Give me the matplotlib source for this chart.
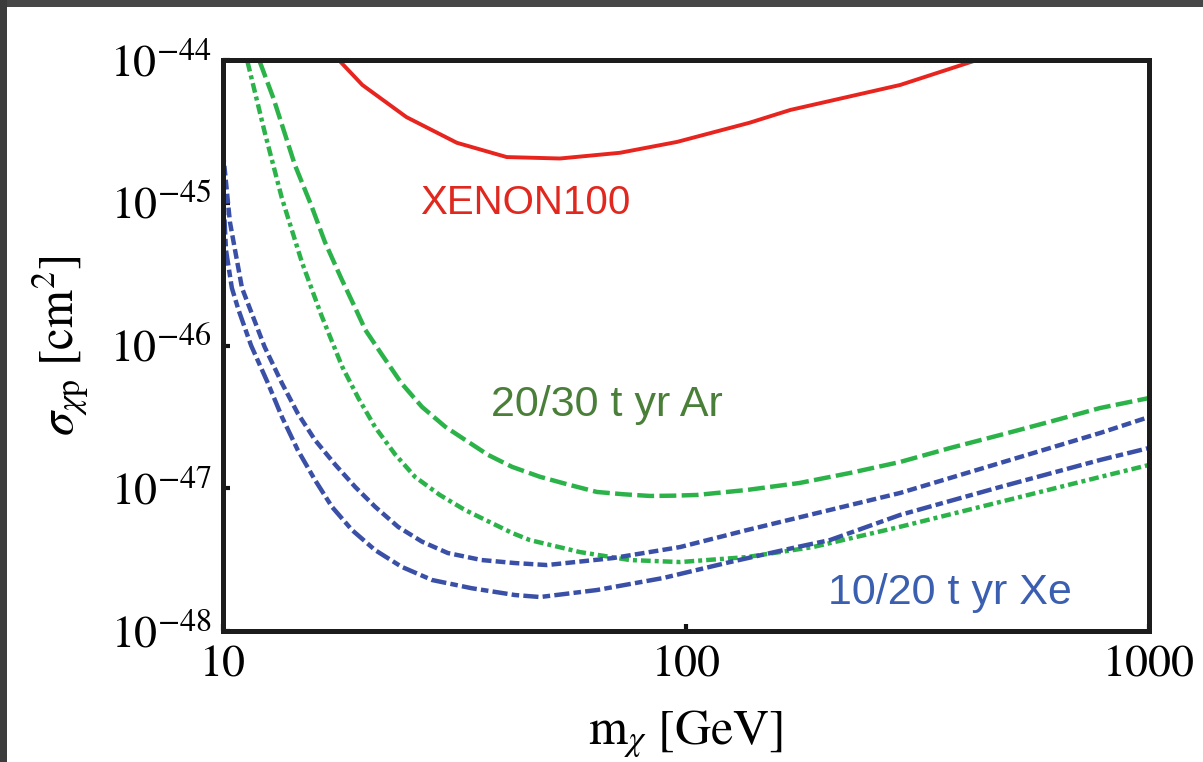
import matplotlib
matplotlib.use("Agg")
import matplotlib.pyplot as plt
from matplotlib.patches import Rectangle

plt.rcParams['mathtext.fontset'] = 'stix'
plt.rcParams['font.family'] = ['STIXGeneral', 'DejaVu Serif']

# XENON100 limit
xenon_m = [17.9, 20.0, 24.9, 32.0, 41.0, 53.4, 72.0, 95.6, 137, 168, 290, 425]
xenon_s = [-44.01, -44.175, -44.40, -44.58, -44.68, -44.69, -44.65, -44.574,
           -44.44, -44.35, -44.175, -44.0]

# Argon 20 t yr (dashed)
ar20_m = [12.0, 12.85, 14.3, 15.5, 16.6, 18.0, 19.3, 20.3, 22.0, 24.3, 26.9,
          30.2, 33.3, 37.4, 42.1, 48.4, 56.1, 64.2, 73.2, 83.6, 93.9, 105.6,
          135.4, 176, 226, 290, 372, 477, 611, 784, 1000]
ar20_s = [-44.01, -44.268, -44.736, -45.016, -45.275, -45.529, -45.737,
          -45.891, -46.06, -46.265, -46.43, -46.569, -46.66, -46.767, -46.85,
          -46.92, -46.977, -47.026, -47.042, -47.054, -47.052, -47.047,
          -47.012, -46.963, -46.893, -46.816, -46.718, -46.627, -46.534,
          -46.438, -46.368]

# Argon 30 t yr (dash-dot)
ar30_m = [11.3, 12.3, 13.4, 14.8, 16.3, 18.1, 19.6, 21.3, 23.5, 26.0, 29.4,
          33.3, 42.1, 46.0, 59.0, 75.7, 97.1, 135.4, 188, 290, 477, 784, 1000]
ar30_s = [-44.014, -44.504, -44.967, -45.415, -45.786, -46.15, -46.368,
          -46.571, -46.76, -46.921, -47.047, -47.152, -47.313, -47.363,
          -47.447, -47.503, -47.517, -47.482, -47.412, -47.27, -47.096,
          -46.921, -46.837]

# Xenon 10 t yr (short dash)
xe10_m = [10.0, 10.35, 10.99, 12.3, 13.4, 14.5, 15.8, 17.5, 19.3, 21.3, 23.9,
          26.9, 30.6, 36.2, 42.7, 50.1, 69.6, 97.1, 135.4, 204.6, 290, 477,
          784, 1000]
xe10_s = [-44.644, -45.135, -45.597, -46.01, -46.263, -46.475, -46.662,
          -46.837, -46.991, -47.129, -47.271, -47.374, -47.454, -47.503,
          -47.524, -47.538, -47.489, -47.412, -47.293, -47.152, -47.033,
          -46.823, -46.613, -46.501]

# Xenon 20 t yr (long-short dash)
xe20_m = [10.0, 10.15, 10.45, 10.8, 11.5, 12.5, 13.4, 14.5, 15.8, 17.2, 19.0,
          21.3, 24.3, 28.3, 34.4, 42.7, 48.4, 64.2, 89.2, 124.5, 173.7, 204.6,
          290, 477, 784, 1000]
xe20_s = [-44.90, -45.331, -45.597, -45.75, -46.0, -46.263, -46.499, -46.732,
          -46.942, -47.131, -47.293, -47.433, -47.55, -47.643, -47.70, -47.748,
          -47.762, -47.713, -47.629, -47.517, -47.412, -47.363, -47.187,
          -46.991, -46.802, -46.718]

x_ticks = [10, 100, 1000]
x_tick_labels = ['10', '100', '1000']
y_exps = [-48, -47, -46, -45, -44]

RED = '#e8241f'
GREEN = '#2bb34a'
BLUE = '#3a4fa6'

fig = plt.figure(figsize=(12.03, 7.62), dpi=100, facecolor='white')

# dark frame strips along the top and left edges
fig.patches.append(Rectangle((0, 1 - 7 / 762), 1, 7 / 762, transform=fig.transFigure,
                             facecolor='#474747', edgecolor='none', zorder=-1))
fig.patches.append(Rectangle((0, 0), 7 / 1203, 1, transform=fig.transFigure,
                             facecolor='#3c3c3c', edgecolor='none', zorder=-1))

ax = fig.add_axes([223 / 1203, 1 - 631 / 762, 926 / 1203, 571 / 762])
ax.set_xscale('log')
ax.set_yscale('log')


def pw(vals):
    return [10.0 ** v for v in vals]


lw = 3.2
ax.plot(xenon_m, pw(xenon_s), color=RED, lw=2.8, solid_joinstyle='round')
ax.plot(ar20_m, pw(ar20_s), color=GREEN, lw=lw, dashes=(3.8, 1.2))
ax.plot(ar30_m, pw(ar30_s), color=GREEN, lw=lw, dashes=(2.2, 0.9, 0.9, 0.9))
ax.plot(xe10_m, pw(xe10_s), color=BLUE, lw=lw, dashes=(2.2, 0.95))
ax.plot(xe20_m, pw(xe20_s), color=BLUE, lw=lw, dashes=(3.4, 0.95, 1.7, 0.95))

ax.set_xlim(10, 1000)
ax.set_ylim(1e-48, 1e-44)

ax.set_xticks(x_ticks)
ax.set_xticklabels(x_tick_labels)
ax.set_yticks(pw(y_exps))
ax.set_yticklabels([r'$10^{%d}$' % e for e in y_exps])
ax.minorticks_off()
ax.tick_params(axis='both', which='major', direction='in', length=5, width=3,
               labelsize=33, color='#111111')
ax.tick_params(axis='x', pad=10)
ax.tick_params(axis='y', pad=8)
for sp in ax.spines.values():
    sp.set_linewidth(3.6)
    sp.set_color('#1c1c1c')
    sp.set_zorder(5)

ax.set_xlabel(r'$\mathrm{m}_\chi\ [\mathrm{GeV}]$', fontsize=36, labelpad=16)
ax.set_ylabel(r'$\sigma_{\chi\mathrm{p}}\ [\mathrm{cm}^2]$', fontsize=35, labelpad=14)

sans = ['Liberation Sans', 'DejaVu Sans']
ax.text(0.326, 0.749, 'XENON100', transform=ax.transAxes, color='#e0281f',
        fontsize=29, family=sans, ha='center', va='center')
ax.text(0.415, 0.396, '20/30 t yr Ar', transform=ax.transAxes, color='#4a7f39',
        fontsize=31, family=sans, ha='center', va='center')
ax.text(0.785, 0.067, '10/20 t yr Xe', transform=ax.transAxes, color='#3b5fb0',
        fontsize=31, family=sans, ha='center', va='center')

fig.savefig('out.png', dpi=100, facecolor='white')
